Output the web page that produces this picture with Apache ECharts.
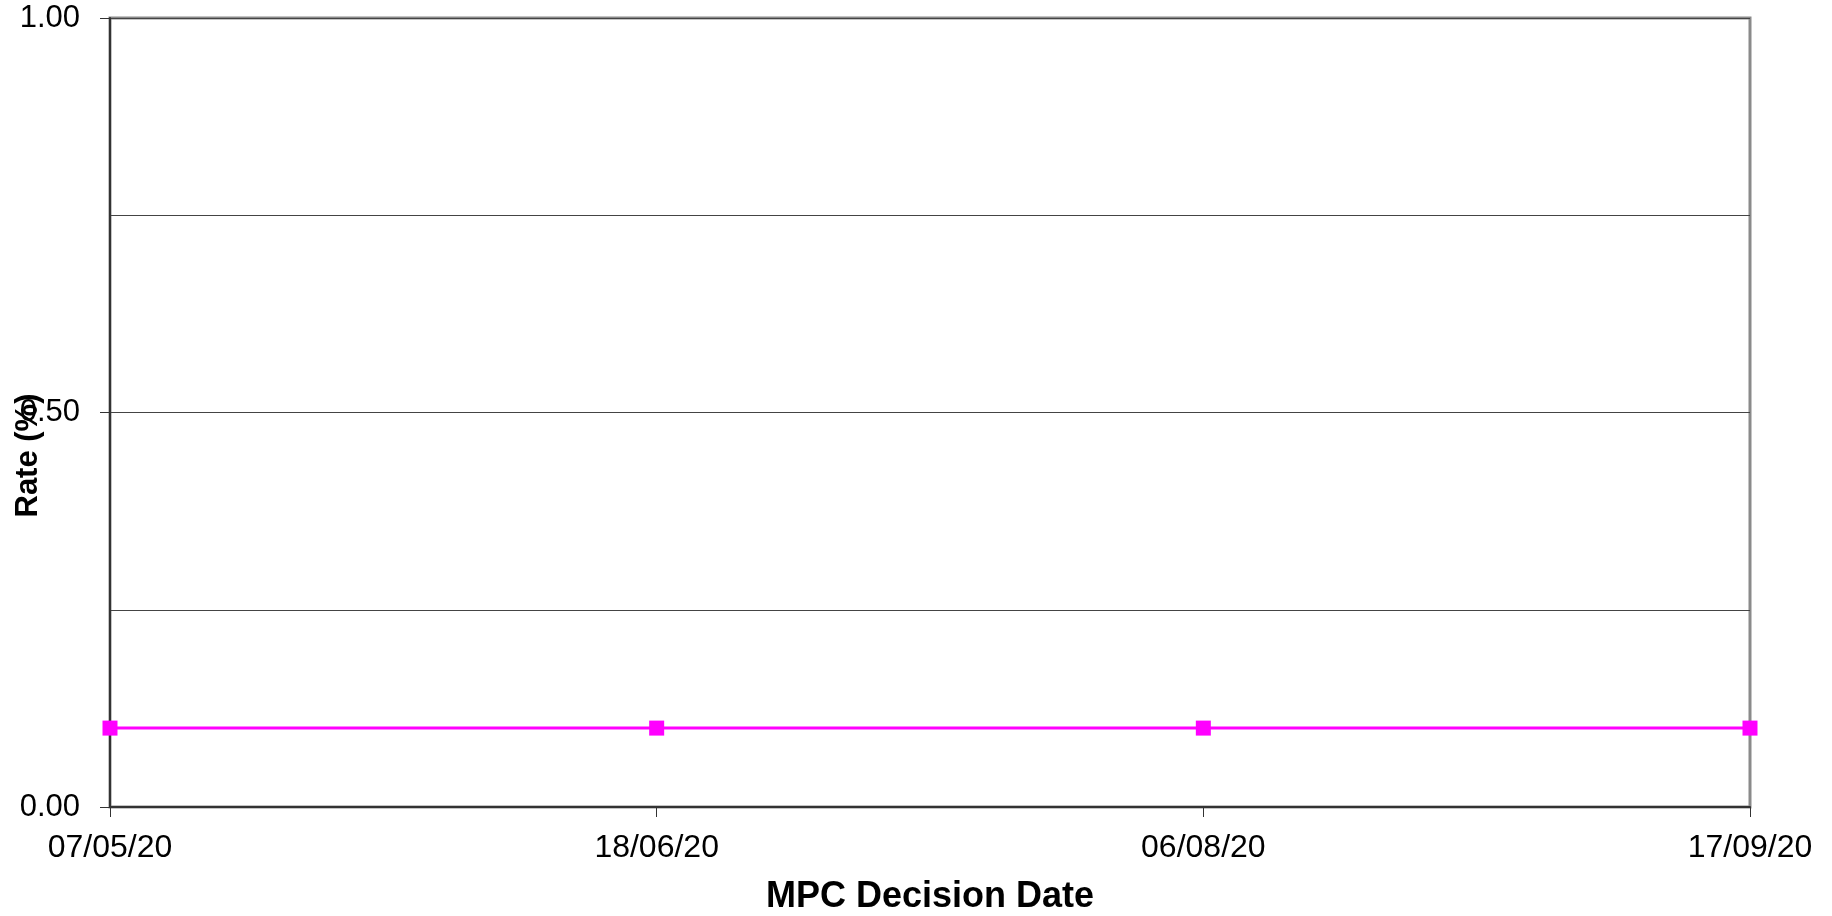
<!DOCTYPE html>
<html>
<head>
<meta charset="utf-8">
<script src="https://cdn.jsdelivr.net/npm/echarts@6/dist/echarts.min.js"></script>
<style>html,body{margin:0;padding:0;background:#fff}#c{width:1832px;height:916px}</style>
</head>
<body>
<div id="c"></div>
<script>
const categories = ['07/05/20', '18/06/20', '06/08/20', '17/09/20'];
const rateValues = [0.10, 0.10, 0.10, 0.10];
const yTickLabels = ['0.00', '0.50', '1.00'];

const font = 'Liberation Sans, Arial, sans-serif';
const chart = echarts.init(document.getElementById('c'), null, {renderer: 'canvas'});
chart.setOption({
  animation: false,
  backgroundColor: '#ffffff',
  grid: {
    left: 110, right: 82, top: 18, bottom: 109,
    containLabel: false, outerBoundsMode: 'none',
    show: true, borderColor: '#8a8a8a', borderWidth: 3, backgroundColor: 'transparent'
  },
  xAxis: {
    type: 'category',
    data: categories,
    boundaryGap: false,
    name: 'MPC Decision Date',
    nameLocation: 'middle',
    nameGap: 72,
    nameMoveOverlap: false,
    nameTextStyle: {fontFamily: font, fontSize: 36, fontWeight: 'bold', color: '#000'},
    axisLine: {lineStyle: {color: '#333', width: 2}},
    axisTick: {show: true, length: 10, lineStyle: {color: '#333', width: 1}},
    axisLabel: {fontFamily: font, fontSize: 32, color: '#000', margin: 25},
    splitLine: {show: false}
  },
  yAxis: [{
    type: 'value',
    min: 0, max: 1, interval: 0.5,
    name: 'Rate (%)',
    nameLocation: 'middle',
    nameRotate: 90,
    nameGap: 66,
    nameMoveOverlap: false,
    nameTextStyle: {fontFamily: font, fontSize: 31, fontWeight: 'bold', color: '#000', padding: [0, 86, 0, 0]},
    axisLine: {show: true, lineStyle: {color: '#333', width: 2}},
    axisTick: {show: true, length: 10, lineStyle: {color: '#333', width: 1}},
    axisLabel: {fontFamily: font, fontSize: 31, color: '#000', margin: 30,
      formatter: function (v) { const s = v.toFixed(2); return yTickLabels.indexOf(s) >= 0 ? s : ''; }},
    splitLine: {show: false}
  }, {
    type: 'value',
    min: 0, max: 1, interval: 0.25,
    position: 'left',
    axisLine: {show: false},
    axisTick: {show: false},
    axisLabel: {show: false},
    splitLine: {show: true, lineStyle: {color: '#444', width: 1}}
  }],
  series: [{
    type: 'line',
    data: rateValues,
    yAxisIndex: 0,
    symbol: 'rect',
    symbolSize: 15,
    lineStyle: {color: '#ff00ff', width: 3},
    itemStyle: {color: '#ff00ff'},
    z: 10
  }]
});
</script>
</body>
</html>
